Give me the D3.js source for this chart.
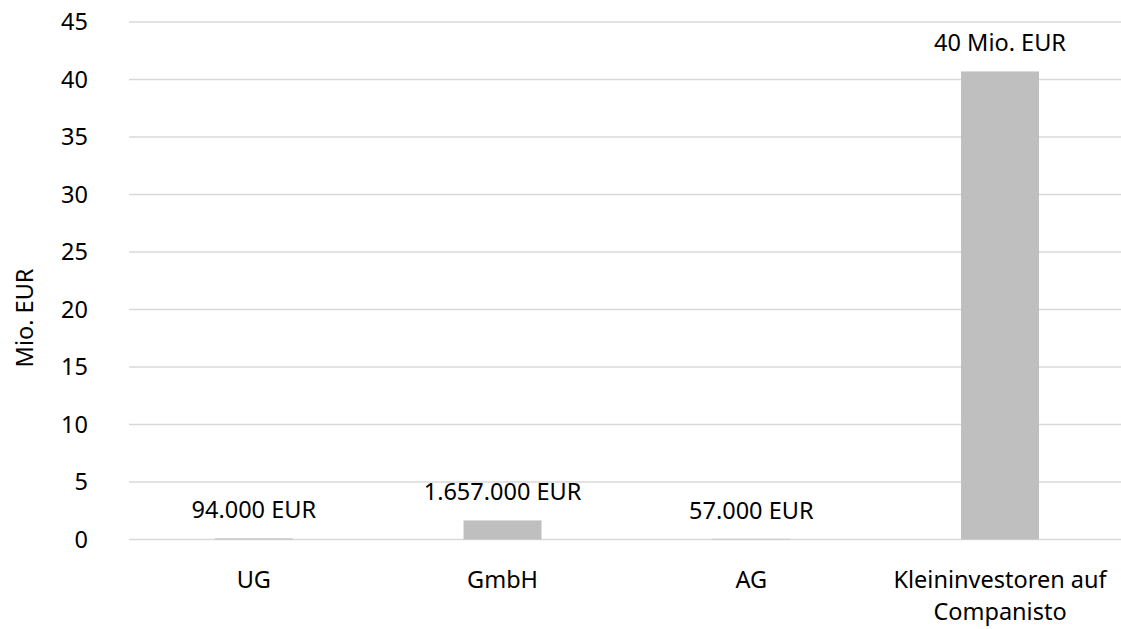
<!DOCTYPE html>
<html>
<head>
<meta charset="utf-8">
<script src="https://cdn.jsdelivr.net/npm/d3@7"></script>
<style>
  body { margin: 0; background: #fff; }
  text { font-family: "Source Sans Pro", "Noto Sans", sans-serif; fill: #000; }
</style>
</head>
<body>
<div class="vis-container"></div>
<script>
const CATEGORIES = ['UG', 'GmbH', 'AG', 'Kleininvestoren auf Companisto'];
const CATEGORY_LINES = [['UG'], ['GmbH'], ['AG'], ['Kleininvestoren auf', 'Companisto']];
const VALUES = [0.094, 1.657, 0.057, 40.7];
const VALUE_LABELS = ['94.000 EUR', '1.657.000 EUR', '57.000 EUR', '40 Mio. EUR'];
const Y_TICKS = [0, 5, 10, 15, 20, 25, 30, 35, 40, 45];

document.addEventListener('DOMContentLoaded', () => {
  buildChart();
});

function buildChart() {
  const width = 1121;
  const height = 629;
  const fontSize = 23.5;
  const gap = 0.6865;

  const svg = d3.select('.vis-container').append('svg')
    .attr('width', width)
    .attr('height', height);

  const x = d3.scaleBand().domain(CATEGORIES).range([129.4, 1124.4])
    .paddingInner(gap).paddingOuter(gap / 2);
  const y = d3.scaleLinear().domain([0, 45]).range([539.5, 22]);

  // gridlines
  svg.selectAll('.grid').data(Y_TICKS)
    .enter().append('line')
      .attr('class', 'grid')
      .attr('x1', 129)
      .attr('x2', width)
      .attr('y1', d => y(d))
      .attr('y2', d => y(d))
      .attr('stroke', '#d9d9d9')
      .attr('stroke-width', 1.5);

  svg.selectAll('.tick-label').data(Y_TICKS)
    .enter().append('text')
      .attr('class', 'tick-label')
      .attr('x', 88)
      .attr('y', d => y(d))
      .attr('dy', '0.35em')
      .attr('text-anchor', 'end')
      .style('font-size', fontSize + 'px')
      .text(d => d);

  svg.append('text')
    .attr('transform', 'translate(33, 318) rotate(-90)')
    .attr('text-anchor', 'middle')
    .style('font-size', fontSize + 'px')
    .text('Mio. EUR');

  // bars
  svg.selectAll('.bar').data(VALUES)
    .enter().append('rect')
      .attr('class', 'bar')
      .attr('x', (d, i) => x(CATEGORIES[i]))
      .attr('width', x.bandwidth())
      .attr('y', d => y(d))
      .attr('height', d => y(0) - y(d))
      .attr('fill', '#bfbfbf');

  svg.selectAll('.value-label').data(VALUES)
    .enter().append('text')
      .attr('class', 'value-label')
      .attr('x', (d, i) => x(CATEGORIES[i]) + x.bandwidth() / 2)
      .attr('y', d => y(d) - 20)
      .attr('text-anchor', 'middle')
      .style('font-size', fontSize + 'px')
      .text((d, i) => VALUE_LABELS[i]);

  // category labels
  const cats = svg.selectAll('.cat-label').data(CATEGORIES)
    .enter().append('text')
      .attr('class', 'cat-label')
      .attr('text-anchor', 'middle')
      .style('font-size', fontSize + 'px');
  cats.selectAll('tspan')
    .data((d, i) => CATEGORY_LINES[i].map(line => ({line, cat: d})))
    .enter().append('tspan')
      .attr('x', d => x(d.cat) + x.bandwidth() / 2)
      .attr('y', (d, j) => 588 + j * 32)
      .text(d => d.line);
}
</script>
</body>
</html>
